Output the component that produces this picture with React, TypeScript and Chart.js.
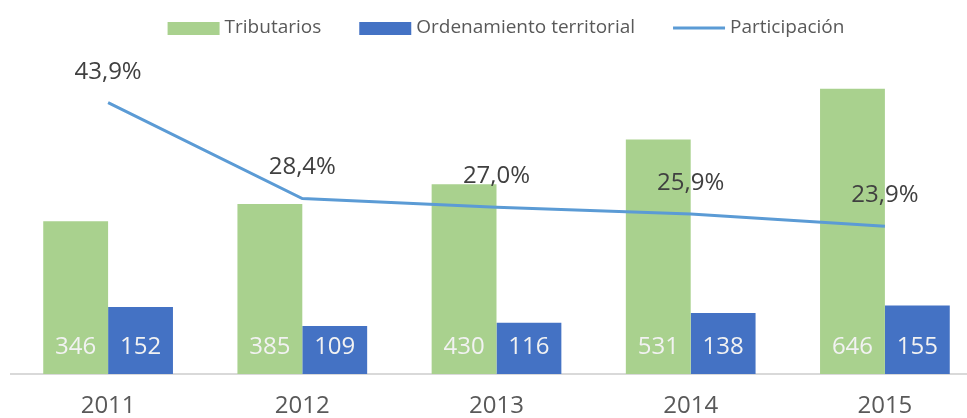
import React, { useEffect, useRef } from "react";
import { Chart, registerables } from "chart.js";

Chart.register(...registerables);

const categories = ["2011", "2012", "2013", "2014", "2015"];
const tributarios = [346, 385, 430, 531, 646];
const ordenamiento = [152, 109, 116, 138, 155];
const participacion = [43.9, 28.4, 27.0, 25.9, 23.9];
const seriesNames = ["Tributarios", "Ordenamiento territorial", "Participación"];

const GREEN = "#A9D18E";
const BLUE = "#4472C4";
const LINE = "#5B9BD5";
const FONT = "'Open Sans', 'DejaVu Sans', sans-serif";

const labelsPlugin = {
  id: "valueLabels",
  afterDatasetsDraw(chart: any) {
    const ctx = chart.ctx;
    ctx.save();
    ctx.textAlign = "center";
    ctx.textBaseline = "middle";
    chart.data.datasets.forEach((ds: any, di: number) => {
      const meta = chart.getDatasetMeta(di);
      meta.data.forEach((el: any, i: number) => {
        const v = ds.data[i];
        if (ds.type === "line") {
          ctx.font = `24px ${FONT}`;
          ctx.fillStyle = "#404040";
          ctx.fillText(v.toFixed(1).replace(".", ",") + "%", el.x, el.y - 31);
        } else {
          ctx.font = `24px ${FONT}`;
          ctx.fillStyle = "#F2F2F2";
          ctx.fillText(String(v), el.x, el.base - 27);
        }
      });
    });
    ctx.restore();
  },
};

const legendPlugin = {
  id: "customLegend",
  afterDraw(chart: any) {
    const ctx = chart.ctx;
    ctx.save();
    ctx.font = `19px ${FONT}`;
    ctx.textBaseline = "middle";
    ctx.textAlign = "left";
    const sym = 52;
    const gapSymText = 5;
    const gapItems = 38;
    const widths = seriesNames.map((n) => ctx.measureText(n).width);
    const total =
      widths.reduce((a, w) => a + sym + gapSymText + w, 0) + gapItems * (seriesNames.length - 1);
    let x = 506 - total / 2;
    const cy = 28;
    const colors = [GREEN, BLUE, LINE];
    seriesNames.forEach((n, i) => {
      if (i < 2) {
        ctx.fillStyle = colors[i];
        ctx.fillRect(x, cy - 6, sym, 13);
      } else {
        ctx.strokeStyle = colors[i];
        ctx.lineWidth = 3;
        ctx.beginPath();
        ctx.moveTo(x, cy);
        ctx.lineTo(x + sym, cy);
        ctx.stroke();
      }
      ctx.fillStyle = "#595959";
      ctx.fillText(n, x + sym + gapSymText, cy);
      x += sym + gapSymText + widths[i] + gapItems;
    });
    ctx.restore();
  },
};

export default function App() {
  const ref = useRef<HTMLCanvasElement | null>(null);
  useEffect(() => {
    if (!ref.current) return;
    const chart = new Chart(ref.current, {
      type: "bar",
      data: {
        labels: categories,
        datasets: [
          {
            type: "line",
            label: seriesNames[2],
            data: participacion,
            borderColor: LINE,
            backgroundColor: LINE,
            borderWidth: 3,
            pointRadius: 0,
            tension: 0,
            yAxisID: "y1",
            order: 0,
          } as any,
          {
            type: "bar",
            label: seriesNames[0],
            data: tributarios,
            backgroundColor: GREEN,
            categoryPercentage: 0.668,
            barPercentage: 1,
            yAxisID: "y",
            order: 1,
          },
          {
            type: "bar",
            label: seriesNames[1],
            data: ordenamiento,
            backgroundColor: BLUE,
            categoryPercentage: 0.668,
            barPercentage: 1,
            yAxisID: "y",
            order: 1,
          },
        ],
      },
      options: {
        responsive: false,
        animation: false,
        layout: { padding: { left: 11, right: 13, top: 65, bottom: 0 } },
        plugins: {
          legend: { display: false },
          tooltip: { enabled: false },
        },
        scales: {
          x: {
            grid: { display: false, drawTicks: false },
            border: { display: true, color: "#D9D9D9", width: 2 },
            ticks: {
              color: "#595959",
              font: { family: FONT, size: 24 },
              padding: 18,
            },
            afterFit: (s: any) => {
              s.height = 44;
            },
          },
          y: { display: false, min: 0, max: 700 },
          y1: { display: false, min: 0, max: 50 },
        },
      },
      plugins: [labelsPlugin, legendPlugin],
    });
    return () => chart.destroy();
  }, []);
  return (
    <div
      style={{
        position: "fixed",
        left: 0,
        top: 0,
        width: 967,
        height: 418,
        overflow: "hidden",
        background: "#fff",
      }}
    >
      <canvas ref={ref} width={995} height={418} style={{ width: 995, height: 418, display: "block" }} />
    </div>
  );
}
